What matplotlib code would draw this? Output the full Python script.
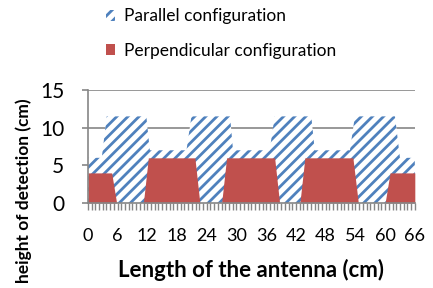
import matplotlib
matplotlib.use("Agg")
import matplotlib.pyplot as plt
import numpy as np
from matplotlib.ticker import MultipleLocator

plt.rcParams['font.family'] = ['Lato', 'DejaVu Sans']
plt.rcParams['hatch.linewidth'] = 2.0
plt.rcParams['hatch.color'] = '#4F81BD'

# Parallel configuration (blue hatched area)
par_x = [0, 2.8, 3.8, 11.8, 12.5, 19.9, 20.9, 28.7, 29.3, 36.7, 37.7, 45.1, 45.8, 52.9, 53.9, 62.0, 63.0, 66]
par_y = [6, 6, 11.5, 11.5, 7, 7, 11.5, 11.5, 7, 7, 11.5, 11.5, 7, 7, 11.5, 11.5, 6, 6]

# Perpendicular configuration (red area)
perp_x = [0, 4.8, 5.8, 11.2, 12.2, 21.6, 22.6, 27.0, 28.0, 37.7, 38.7, 42.8, 43.8, 53.5, 54.6, 60.0, 61.0, 66]
perp_y = [4, 4, 0, 0, 6, 6, 0, 0, 6, 6, 0, 0, 6, 6, 0, 0, 4, 4]

x_ticks = list(range(0, 67, 6))
y_ticks = [0, 5, 10, 15]

fig = plt.figure(figsize=(4.33, 2.88), dpi=100)
ax = fig.add_axes([0.203, 0.295, 0.755, 0.3925])

ax.fill_between(par_x, 0, par_y, facecolor='white', edgecolor='#4F81BD',
                hatch='///', linewidth=0, label='Parallel configuration', zorder=2)
ax.fill_between(perp_x, 0, perp_y, facecolor='#C0504D', edgecolor='#C0504D',
                linewidth=0, label='Perpendicular configuration', zorder=3)

ax.set_xlim(0, 66)
ax.set_ylim(0, 15)
ax.set_xticks(x_ticks)
ax.set_yticks(y_ticks)
ax.xaxis.set_minor_locator(MultipleLocator(0.75))
ax.grid(axis='y', color='#868686', linewidth=1.2, zorder=1)
ax.set_axisbelow(True)

for s in ['top', 'right']:
    ax.spines[s].set_visible(False)
for s in ['left', 'bottom']:
    ax.spines[s].set_color('#868686')
    ax.spines[s].set_linewidth(1.2)
    ax.spines[s].set_zorder(4)

ax.tick_params(axis='y', labelsize=15, color='#868686', length=4, width=1.2, pad=13)
ax.tick_params(axis='x', which='major', labelsize=13, color='#868686', length=5, width=1.0, pad=13)
ax.tick_params(axis='x', which='minor', color='#868686', length=5, width=1.0)

ax.set_xlabel('Length of the antenna (cm)', fontsize=16, fontweight='bold', labelpad=11)
ax.set_ylabel('height of detection (cm)', fontsize=12.5, fontweight='bold')
ax.yaxis.set_label_coords(-0.171, 0.106)

fig.legend(loc='upper left', bbox_to_anchor=(0.208, 1.025), frameon=False,
           fontsize=12.5, handlelength=0.55, handleheight=0.55, handletextpad=0.5,
           labelspacing=1.05)

fig.savefig('out.png', dpi=100)
